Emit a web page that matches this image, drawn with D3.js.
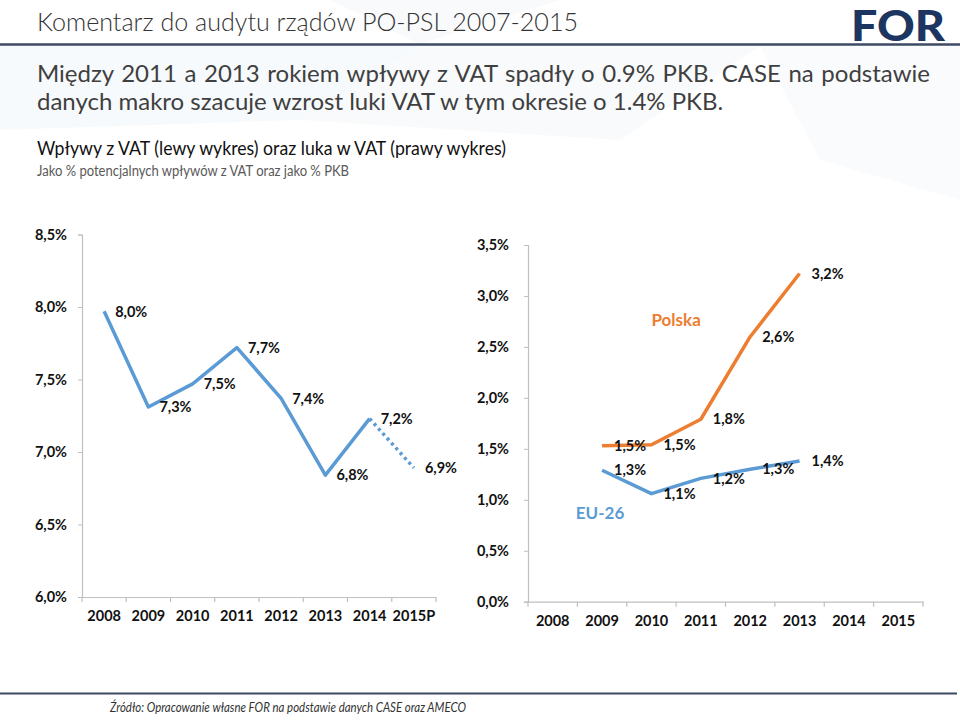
<!DOCTYPE html>
<html><head><meta charset="utf-8">
<script src="https://cdn.jsdelivr.net/npm/d3@7/dist/d3.min.js"></script>
<style>
body{margin:0;background:#fff;}
svg{display:block;}
text{font-family:Lato,"Open Sans",sans-serif;}
</style></head>
<body>
<script>
// ---------- DATA ----------
const leftYears = ["2008","2009","2010","2011","2012","2013","2014","2015P"];
const leftValues = [7.97, 7.31, 7.47, 7.72, 7.37, 6.84, 7.23, 6.89];
const leftTicks = [6.0, 6.5, 7.0, 7.5, 8.0, 8.5];

const rightYears = ["2008","2009","2010","2011","2012","2013","2014","2015"];
const polskaValues = [null, 1.53, 1.54, 1.79, 2.60, 3.22, null, null];
const eu26Values = [null, 1.29, 1.06, 1.21, 1.30, 1.38, null, null];
const rightTicks = [0, 0.5, 1.0, 1.5, 2.0, 2.5, 3.0, 3.5];

const titleText = "Komentarz do audytu rządów PO-PSL 2007-2015";
const headLine1 = "Między 2011 a 2013 rokiem wpływy z VAT spadły o 0.9% PKB. CASE na podstawie";
const headLine2 = "danych makro szacuje wzrost luki VAT w tym okresie o 1.4% PKB.";
const chartTitle = "Wpływy z VAT (lewy wykres) oraz luka w VAT (prawy wykres)";
const chartSub = "Jako % potencjalnych wpływów z VAT oraz jako % PKB";
const sourceText = "Źródło: Opracowanie własne FOR na podstawie danych CASE oraz AMECO";

// ---------- SETUP ----------
const W = 960, H = 720;
const svg = d3.select("body").append("svg").attr("width", W).attr("height", H);
const loc = d3.formatLocale({decimal: ",", thousands: " ", grouping: [3], currency: ["", ""]});
const fmt = loc.format(".1f");
const pct = v => fmt(v) + "%";
const BLUE = "#5b9bd5", ORANGE = "#ed7d31", AXIS = "#bfbfbf";

// faint background shapes
const bg = svg.append("g");
bg.append("polygon").attr("points", "0,46 420,46 300,120 0,130").attr("fill", "#eef3f8").attr("opacity", 0.45);
bg.append("polygon").attr("points", "420,46 760,46 620,140 300,120").attr("fill", "#f3f6fa").attr("opacity", 0.55);
bg.append("polygon").attr("points", "760,46 960,46 960,200 820,160").attr("fill", "#f4f7fb").attr("opacity", 0.5);
bg.append("polygon").attr("points", "330,0 560,0 420,44").attr("fill", "#eef3f8").attr("opacity", 0.4);

// ---------- HEADER ----------
svg.append("text").attr("x", 37).attr("y", 31).text(titleText)
  .attr("font-size", 26).attr("font-weight", 300).attr("fill", "#333")
  .attr("textLength", 541).attr("lengthAdjust", "spacingAndGlyphs");
svg.append("line").attr("x1", 0).attr("x2", W).attr("y1", 44.5).attr("y2", 44.5)
  .attr("stroke", "#3e4964").attr("stroke-width", 2.5);
svg.append("text").attr("x", 851).attr("y", 41).text("FOR")
  .attr("font-family", "Roboto, 'Open Sans', sans-serif")
  .attr("font-size", 42).attr("font-weight", 900).attr("fill", "#1d3661")
  .attr("textLength", 94).attr("lengthAdjust", "spacingAndGlyphs");

// headline: second line natural, first line justified to the right margin
svg.append("text").attr("x", 37).attr("y", 110).attr("font-size", 24).attr("fill", "#3f3f3f").text(headLine2);
const hl1 = svg.append("text").attr("x", 37).attr("y", 82).attr("font-size", 24).attr("fill", "#3f3f3f").text(headLine1);
const nat1 = hl1.node().getComputedTextLength();
const spaces = headLine1.split(" ").length - 1;
hl1.style("word-spacing", Math.max(0, (893 - nat1) / spaces) + "px");

svg.append("text").attr("x", 37).attr("y", 155).text(chartTitle)
  .attr("font-size", 19).attr("fill", "#111")
  .attr("textLength", 469).attr("lengthAdjust", "spacingAndGlyphs");
svg.append("text").attr("x", 37).attr("y", 176).text(chartSub)
  .attr("font-size", 14.5).attr("fill", "#595959")
  .attr("textLength", 312).attr("lengthAdjust", "spacingAndGlyphs");

// ---------- FOOTER ----------
svg.append("line").attr("x1", 0).attr("x2", 957).attr("y1", 693.5).attr("y2", 693.5)
  .attr("stroke", "#3e4964").attr("stroke-width", 2);
svg.append("text").attr("x", 110).attr("y", 712).text(sourceText)
  .attr("font-size", 12.5).attr("font-style", "italic").attr("fill", "#333")
  .attr("textLength", 356).attr("lengthAdjust", "spacingAndGlyphs");

// ---------- helper: axes ----------
function drawAxes(g, x, y, ticks, domain, tickPad) {
  const [x0] = x.range();
  const [yb] = y.range();
  const ya = g.append("g").attr("transform", `translate(${x0},0)`)
    .call(d3.axisLeft(y).tickValues(ticks).tickFormat(pct).tickSize(4).tickPadding(tickPad));
  ya.select(".domain").attr("stroke", AXIS).attr("stroke-width", 1.2);
  ya.selectAll(".tick line").attr("stroke", AXIS);
  ya.selectAll(".tick text").attr("font-size", 14.5).attr("font-weight", 700).attr("fill", "#111")
    .attr("font-family", "Lato, sans-serif");

  const xa = g.append("g").attr("transform", `translate(0,${yb})`)
    .call(d3.axisBottom(x).tickSize(0).tickPadding(14));
  xa.select(".domain").attr("stroke", AXIS).attr("stroke-width", 1.2);
  xa.selectAll(".tick text").attr("font-size", 14.5).attr("font-weight", 700).attr("fill", "#111")
    .attr("font-family", "Lato, sans-serif");
  const bounds = domain.map(d => x(d)).concat([x(domain[domain.length - 1]) + x.bandwidth()]);
  g.append("g").selectAll("line").data(bounds).join("line")
    .attr("x1", d => d).attr("x2", d => d).attr("y1", yb).attr("y2", yb + 5)
    .attr("stroke", AXIS).attr("stroke-width", 1.2);
}

// ---------- LEFT CHART ----------
const gl = svg.append("g");
const xL = d3.scaleBand().domain(leftYears).range([82, 436]).padding(0);
const yL = d3.scaleLinear().domain([6, 8.5]).range([597, 234.5]);
drawAxes(gl, xL, yL, leftTicks, leftYears, 11);

const leftPts = leftYears.map((d, i) => ({x: xL(d) + xL.bandwidth() / 2, y: yL(leftValues[i]), v: leftValues[i]}));
const lineGen = d3.line().x(d => d.x).y(d => d.y);
gl.append("path").datum(leftPts.slice(0, 7)).attr("d", lineGen)
  .attr("fill", "none").attr("stroke", BLUE).attr("stroke-width", 3.5).attr("stroke-linejoin", "round");
gl.append("path").datum(leftPts.slice(6, 8)).attr("d", lineGen)
  .attr("fill", "none").attr("stroke", BLUE).attr("stroke-width", 3.5).attr("stroke-dasharray", "3,3.5");
gl.append("g").selectAll("text").data(leftPts).join("text")
  .attr("x", d => d.x + 11).attr("y", d => d.y).attr("dy", "0.36em")
  .attr("font-size", 14.5).attr("font-weight", 700).attr("fill", "#111")
  .text(d => pct(d.v));

// ---------- RIGHT CHART ----------
const gr = svg.append("g");
const xR = d3.scaleBand().domain(rightYears).range([528, 923]).padding(0);
const yR = d3.scaleLinear().domain([0, 3.5]).range([601.7, 245]);
drawAxes(gr, xR, yR, rightTicks, rightYears, 15);

function series(vals) {
  return rightYears.map((d, i) => ({x: xR(d) + xR.bandwidth() / 2, y: vals[i] == null ? null : yR(vals[i]), v: vals[i]}))
    .filter(d => d.v != null);
}
const pol = series(polskaValues), eu = series(eu26Values);
[[pol, ORANGE], [eu, BLUE]].forEach(([pts, c]) => {
  gr.append("path").datum(pts).attr("d", lineGen)
    .attr("fill", "none").attr("stroke", c).attr("stroke-width", 3.5).attr("stroke-linejoin", "round");
});
[pol, eu].forEach(pts => {
  gr.append("g").selectAll("text").data(pts).join("text")
    .attr("x", d => d.x + 12).attr("y", d => d.y).attr("dy", "0.36em")
    .attr("font-size", 14.5).attr("font-weight", 700).attr("fill", "#111")
    .text(d => pct(d.v));
});
gr.append("text").attr("x", xR("2011")).attr("y", yR(2.77)).attr("dy", "0.36em")
  .attr("text-anchor", "middle").attr("font-size", 17).attr("font-weight", 700).attr("fill", ORANGE)
  .text("Polska");
gr.append("text").attr("x", xR("2009") + xR.bandwidth() / 2 - 2).attr("y", yR(0.87)).attr("dy", "0.36em")
  .attr("text-anchor", "middle").attr("font-size", 17).attr("font-weight", 700).attr("fill", BLUE)
  .text("EU-26");
</script>
</body></html>
